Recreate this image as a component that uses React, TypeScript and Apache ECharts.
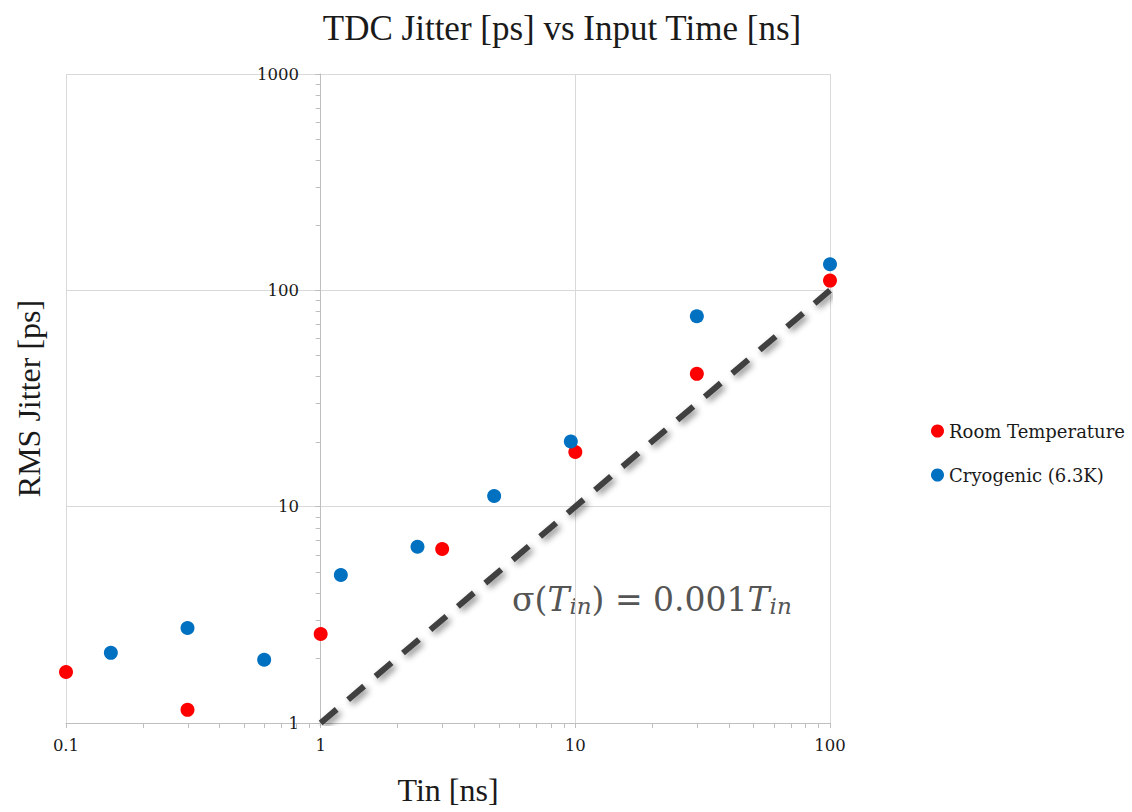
import React, { useEffect, useRef } from "react";
import * as echarts from "echarts";

// ---- data ----
const roomX = [0.1, 0.3, 1, 3, 10, 30, 100];
const roomY = [1.72, 1.15, 2.58, 6.37, 17.9, 41.1, 110.9];
const cryoX = [0.15, 0.3, 0.6, 1.2, 2.4, 4.8, 9.6, 30, 100];
const cryoY = [2.11, 2.75, 1.96, 4.83, 6.53, 11.2, 20.0, 75.9, 132];
const fitX = [1, 100];
const fitY = [1, 100];

// tick positions
const xMinorTicks = [0.2, 0.3, 0.4, 0.5, 0.6, 0.7, 0.8, 0.9, 2, 3, 4, 5, 6, 7, 8, 9, 20, 30, 40, 50, 60, 70, 80, 90];
const yMinorTicks = [2, 3, 4, 5, 6, 7, 8, 9, 20, 30, 40, 50, 60, 70, 80, 90, 200, 300, 400, 500, 600, 700, 800, 900];
const xLabels: Record<string, string> = { "0.1": "0.1", "1": "1", "10": "10", "100": "100" };
const yLabels: Record<string, string> = { "1": "1", "10": "10", "100": "100", "1000": "1000" };

const names = {
  title: "TDC Jitter [ps] vs Input Time [ns]",
  x: "Tin [ns]",
  y: "RMS Jitter [ps]",
  room: "Room Temperature",
  cryo: "Cryogenic (6.3K)",
};

const AXIS_COLOR = "#BFBFBF";
const GRID_COLOR = "#D9D9D9";
const SMALL_FONT = "DejaVu Serif";
const BIG_FONT = "Liberation Serif";
const ANNOT_COLOR = "#555555";

function fmt(v: number): string {
  const r = Math.round(v * 1000) / 1000;
  return String(r);
}

export default function App() {
  const ref = useRef<HTMLDivElement>(null);

  useEffect(() => {
    if (!ref.current) return;
    const chart = echarts.init(ref.current, undefined, { renderer: "svg" });

    const option: any = {
      animation: false,
      backgroundColor: "#ffffff",
      title: {
        text: names.title,
        left: 557,
        textAlign: "center",
        top: 3,
        textStyle: { fontFamily: BIG_FONT, fontSize: 35, fontWeight: "normal", color: "#1a1a1a", lineHeight: 40 },
      },
      grid: { left: 66, right: 302, top: 74, bottom: 89, containLabel: false },
      legend: {
        orient: "vertical",
        left: 926,
        top: 416,
        itemWidth: 13,
        itemHeight: 13,
        itemGap: 24,
        icon: "circle",
        data: [names.room, names.cryo],
        textStyle: { fontFamily: SMALL_FONT, fontSize: 18, color: "#1a1a1a", lineHeight: 20 },
      },
      xAxis: {
        type: "log",
        logBase: 10,
        min: 0.1,
        max: 100,
        name: names.x,
        nameLocation: "middle",
        nameGap: 51,
        nameTextStyle: { fontFamily: BIG_FONT, fontSize: 32, color: "#1a1a1a", lineHeight: 32 },
        axisLine: { show: true, onZero: false, lineStyle: { color: AXIS_COLOR, width: 1 } },
        axisTick: { show: true, length: 5, lineStyle: { color: AXIS_COLOR } },
        axisLabel: {
          margin: 14,
          fontFamily: SMALL_FONT,
          fontSize: 16.5,
          color: "#1a1a1a",
          formatter: (v: number) => xLabels[fmt(v)] ?? fmt(v),
        },
        splitLine: { show: true, lineStyle: { color: GRID_COLOR, width: 1 } },
      },
      yAxis: {
        type: "log",
        logBase: 10,
        min: 1,
        max: 1000,
        position: "left",
        offset: -254,
        name: names.y,
        nameLocation: "middle",
        nameGap: 275,
        nameTextStyle: { fontFamily: BIG_FONT, fontSize: 32, color: "#1a1a1a", lineHeight: 32 },
        axisLine: { show: true, onZero: false, lineStyle: { color: AXIS_COLOR, width: 1 } },
        axisTick: { show: true, length: 5, lineStyle: { color: AXIS_COLOR } },
        axisLabel: {
          margin: 21,
          fontFamily: SMALL_FONT,
          fontSize: 16.5,
          color: "#1a1a1a",
          formatter: (v: number) => yLabels[fmt(v)] ?? fmt(v),
        },
        splitLine: { show: true, lineStyle: { color: GRID_COLOR, width: 1 } },
      },
      graphic: [
        {
          type: "text",
          x: 512,
          y: 599,
          silent: true,
          style: {
            text: "{a|σ(}{i|T}{s|in}{a|) = 0.001}{i|T}{s|in}",
            align: "left",
            verticalAlign: "middle",
            fill: ANNOT_COLOR,
            rich: {
              a: { fontFamily: SMALL_FONT, fontSize: 33, lineHeight: 37, color: ANNOT_COLOR },
              i: { fontFamily: SMALL_FONT, fontSize: 33, fontStyle: "italic", lineHeight: 37, color: ANNOT_COLOR },
              s: { fontFamily: SMALL_FONT, fontSize: 23, fontStyle: "italic", lineHeight: 23, verticalAlign: "bottom", color: ANNOT_COLOR },
            },
          },
        },
      ],
      series: [
        {
          name: "fit",
          type: "line",
          data: fitX.map((x, i) => [x, fitY[i]]),
          symbol: "none",
          silent: true,
          lineStyle: {
            color: "#404040",
            width: 6,
            type: [21, 15],
            cap: "butt",
            shadowBlur: 6,
            shadowColor: "rgba(0,0,0,0.45)",
            shadowOffsetX: 3,
            shadowOffsetY: 3,
          },
          z: 3,
        },
        {
          name: names.room,
          type: "scatter",
          data: roomX.map((x, i) => [x, roomY[i]]),
          symbol: "circle",
          symbolSize: 14,
          itemStyle: { color: "#FF0000", opacity: 1 },
          z: 4,
        },
        {
          name: names.cryo,
          type: "scatter",
          data: cryoX.map((x, i) => [x, cryoY[i]]),
          symbol: "circle",
          symbolSize: 14,
          itemStyle: { color: "#0070C0", opacity: 1 },
          z: 4,
        },
        {
          name: "xMinor",
          type: "custom",
          silent: true,
          clip: false,
          data: xMinorTicks.map((v) => [v, 1]),
          renderItem: (_params: any, api: any) => {
            const p = api.coord([api.value(0), api.value(1)]);
            const x = Math.round(p[0]) + 0.5;
            return {
              type: "line",
              shape: { x1: x, y1: p[1], x2: x, y2: p[1] + 5 },
              style: { stroke: AXIS_COLOR, lineWidth: 1 },
            };
          },
          z: 2,
        },
        {
          name: "yMinor",
          type: "custom",
          silent: true,
          clip: false,
          data: yMinorTicks.map((v) => [1, v]),
          renderItem: (_params: any, api: any) => {
            const p = api.coord([api.value(0), api.value(1)]);
            const y = Math.round(p[1]) + 0.5;
            return {
              type: "line",
              shape: { x1: p[0], y1: y, x2: p[0] - 5, y2: y },
              style: { stroke: AXIS_COLOR, lineWidth: 1 },
            };
          },
          z: 2,
        },
      ],
    };

    chart.setOption(option);
    return () => chart.dispose();
  }, []);

  return (
    <div
      ref={ref}
      style={{ position: "fixed", left: 0, top: 0, width: 1132, height: 812, background: "#fff" }}
    />
  );
}
